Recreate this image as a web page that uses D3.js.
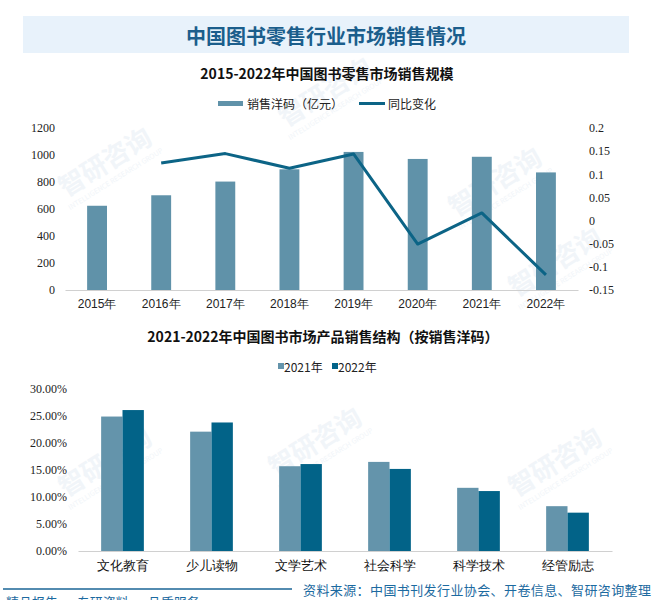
<!DOCTYPE html>
<html><head><meta charset="utf-8">
<script src="https://cdn.jsdelivr.net/npm/d3@7"></script>
<style>
html,body{margin:0;padding:0;background:#fff;}
svg{display:block;font-family:"Noto Sans CJK SC","Noto Sans",sans-serif;}
</style></head>
<body><svg id="c" width="652" height="600"></svg>
<script>
// ---- data ----
const years = ["2015年","2016年","2017年","2018年","2019年","2020年","2021年","2022年"];
const salesValues = [624, 701.7, 803.2, 894, 1022.7, 970.8, 986.8, 871];
const growthValues = [null, 0.1245, 0.1447, 0.113, 0.144, -0.0507, 0.0165, -0.1173];
const leftTicks = [0, 200, 400, 600, 800, 1000, 1200];
const rightTicks = [-0.15, -0.1, -0.05, 0, 0.05, 0.1, 0.15, 0.2];
const categories = ["文化教育","少儿读物","文学艺术","社会科学","科学技术","经管励志"];
const share2021 = [0.249, 0.221, 0.157, 0.165, 0.117, 0.083];
const share2022 = [0.261, 0.238, 0.161, 0.152, 0.111, 0.071];
const shareTicks = [0, 0.05, 0.10, 0.15, 0.20, 0.25, 0.30];
const seriesNames = ["2021年","2022年"];

const svg = d3.select("#c");
const C_BAR = "#6092a9", C_LINE = "#0c6486", C_21 = "#6494ab", C_22 = "#026388";

// faint watermarks
const wm = [[110,170],[330,100],[500,190],[560,270],[320,450],[110,470],[560,470]];
const wg = svg.append("g").attr("fill","#f1f5f9");
wm.forEach(([x,y])=>{
  const g = wg.append("g").attr("transform",`translate(${x},${y}) rotate(-32)`);
  g.append("text").attr("font-size",26).attr("font-weight","bold").attr("text-anchor","middle").text("智研咨询");
  g.append("text").attr("y",13).attr("font-size",7).attr("text-anchor","middle").text("INTELLIGENCE RESEARCH GROUP");
});

// header
svg.append("rect").attr("x",23).attr("y",16).attr("width",606).attr("height",37).attr("fill","#e8f2fb");
svg.append("text").attr("x",326).attr("y",35).attr("text-anchor","middle").attr("dominant-baseline","central")
  .attr("font-size",20).attr("font-weight","bold").attr("fill","#1b5e8c").text("中国图书零售行业市场销售情况");

// chart 1 title + legend
svg.append("text").attr("x",327).attr("y",73).attr("text-anchor","middle").attr("dominant-baseline","central")
  .attr("font-size",14).attr("font-weight","bold").attr("fill","#111").text("2015-2022年中国图书零售市场销售规模");
svg.append("rect").attr("x",218).attr("y",101).attr("width",25).attr("height",5).attr("fill",C_BAR);
svg.append("text").attr("x",247).attr("y",103.5).attr("dominant-baseline","central").attr("font-size",12).attr("fill","#222").text("销售洋码（亿元）");
svg.append("line").attr("x1",359).attr("x2",385).attr("y1",103.5).attr("y2",103.5).attr("stroke",C_LINE).attr("stroke-width",3);
svg.append("text").attr("x",388).attr("y",103.5).attr("dominant-baseline","central").attr("font-size",12).attr("fill","#222").text("同比变化");

// chart 1 scales
const x1 = d3.scaleBand().domain(years).range([65,578]).paddingInner(0.69).paddingOuter(0.345);
const yL = d3.scaleLinear().domain([0,1200]).range([290,128]);
const yR = d3.scaleLinear().domain([-0.15,0.2]).range([290,128]);

const axL = svg.append("g").attr("transform","translate(60,0)")
  .call(d3.axisLeft(yL).tickValues(leftTicks).tickSize(0).tickPadding(5).tickFormat(d3.format("d")));
axL.select(".domain").remove();
axL.selectAll("text").attr("font-size",12).attr("fill","#222").attr("font-family","Liberation Serif, serif");

const axR = svg.append("g").attr("transform","translate(584,0)")
  .call(d3.axisRight(yR).tickValues(rightTicks).tickSize(0).tickPadding(5).tickFormat(d=>String(+d.toFixed(2))));
axR.select(".domain").remove();
axR.selectAll("text").attr("font-size",12).attr("fill","#222").attr("font-family","Liberation Serif, serif");

svg.append("g").selectAll("rect").data(salesValues).join("rect")
  .attr("x",(d,i)=>x1(years[i])).attr("width",x1.bandwidth())
  .attr("y",d=>yL(d)).attr("height",d=>yL(0)-yL(d)).attr("fill",C_BAR);

const ax1 = svg.append("g").attr("transform","translate(0,290)")
  .call(d3.axisBottom(x1).tickSize(0).tickPadding(9));
ax1.select(".domain").attr("stroke","#d0d0d0").attr("stroke-width",1.2);
ax1.selectAll("text").attr("font-size",12).attr("fill","#222");

const lineData = years.map((y,i)=>({y, v:growthValues[i]})).filter(d=>d.v!==null);
svg.append("path").datum(lineData)
  .attr("d", d3.line().x(d=>x1(d.y)+x1.bandwidth()/2).y(d=>yR(d.v)))
  .attr("fill","none").attr("stroke",C_LINE).attr("stroke-width",3).attr("stroke-linejoin","round");

// chart 2 title + legend
svg.append("text").attr("x",323).attr("y",336).attr("text-anchor","middle").attr("dominant-baseline","central")
  .attr("font-size",14).attr("font-weight","bold").attr("fill","#111").text("2021-2022年中国图书市场产品销售结构（按销售洋码）");
const lg = svg.append("g");
[[278,C_21,seriesNames[0]],[332,C_22,seriesNames[1]]].forEach(([x,c,t])=>{
  lg.append("rect").attr("x",x).attr("y",363).attr("width",6).attr("height",6).attr("fill",c);
  lg.append("text").attr("x",x+6).attr("y",366).attr("dominant-baseline","central").attr("font-size",12).attr("fill","#222").text(t);
});

// chart 2 scales
const x2 = d3.scaleBand().domain(categories).range([78,612]).paddingInner(0.52).paddingOuter(0.26);
const xs = d3.scaleBand().domain(seriesNames).range([0,x2.bandwidth()]);
const y2 = d3.scaleLinear().domain([0,0.30]).range([551,389]);

const ay2 = svg.append("g").attr("transform","translate(72,0)")
  .call(d3.axisLeft(y2).tickValues(shareTicks).tickSize(0).tickPadding(5).tickFormat(d3.format(".2%")));
ay2.select(".domain").remove();
ay2.selectAll("text").attr("font-size",12).attr("fill","#222").attr("font-family","Liberation Serif, serif");

const groups = svg.append("g").selectAll("g").data(categories).join("g")
  .attr("transform",d=>`translate(${x2(d)},0)`);
groups.selectAll("rect").data((d,i)=>[share2021[i],share2022[i]]).join("rect")
  .attr("x",(d,j)=>xs(seriesNames[j])).attr("width",xs.bandwidth())
  .attr("y",d=>y2(d)).attr("height",d=>y2(0)-y2(d))
  .attr("fill",(d,j)=>j===0?C_21:C_22);

const ax2 = svg.append("g").attr("transform","translate(0,551)")
  .call(d3.axisBottom(x2).tickSize(0).tickPadding(10));
ax2.select(".domain").attr("stroke","#d0d0d0").attr("stroke-width",1.2);
ax2.selectAll("text").attr("font-size",13).attr("fill","#111");

// footer
svg.append("line").attr("x1",3).attr("x2",292).attr("y1",589).attr("y2",589).attr("stroke","#1a6496").attr("stroke-width",1.5);
svg.append("text").attr("x",303).attr("y",589).attr("dominant-baseline","central").attr("font-size",13)
  .attr("letter-spacing",0.4).attr("fill","#1c6aa0").text("资料来源：中国书刊发行业协会、开卷信息、智研咨询整理");
svg.append("text").attr("x",6).attr("y",607).attr("font-size",13).attr("fill","#1c6aa0")
  .text("精品报告 · 专研资料 · 品质服务");
</script></body></html>
